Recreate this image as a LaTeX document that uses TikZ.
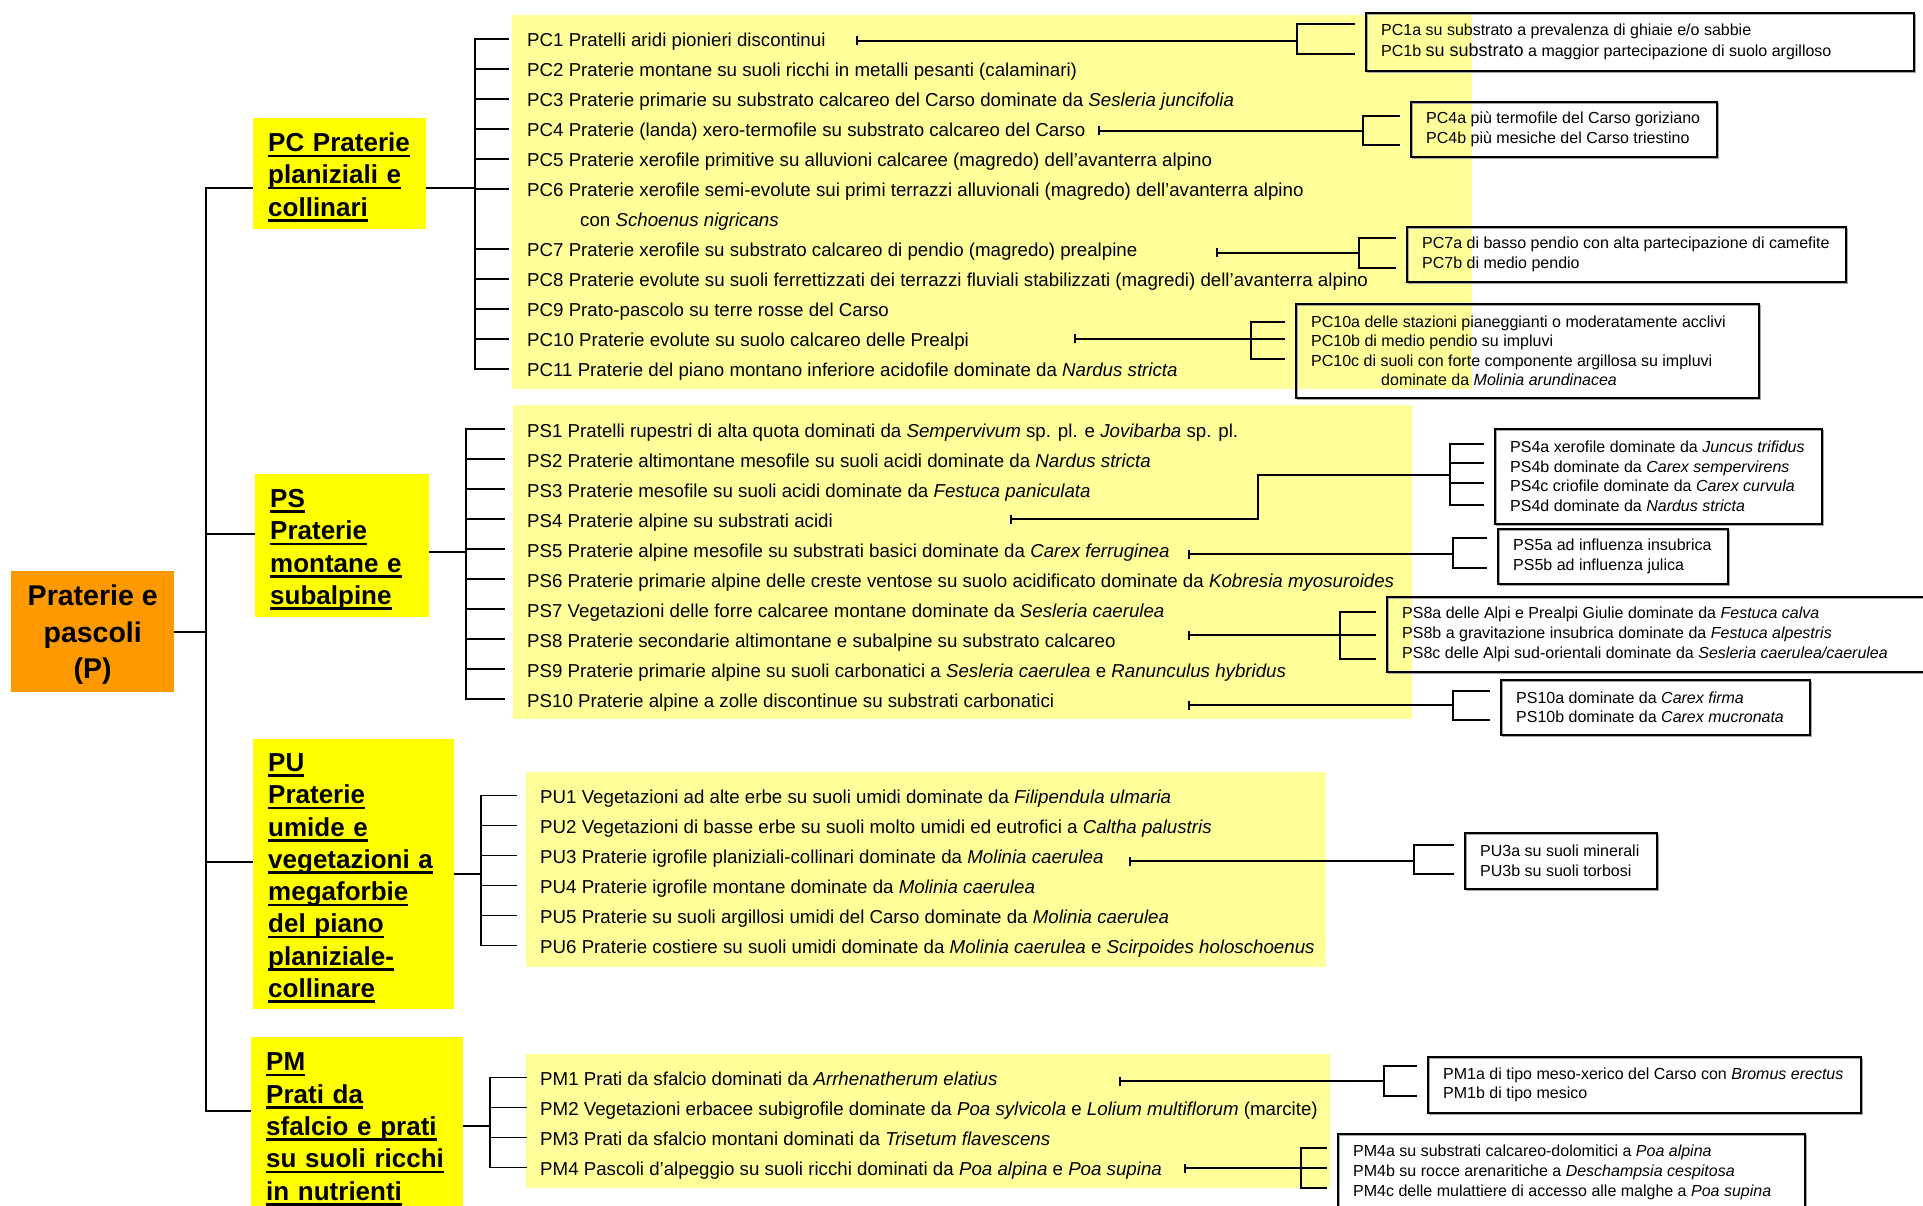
\documentclass[tikz,border=0pt]{standalone}
\usepackage{fontspec}
\setmainfont{Liberation Sans}
\usetikzlibrary{arrows.meta}
\definecolor{paleyellow}{HTML}{FFFF99}
\definecolor{headyellow}{HTML}{FFFF00}
\definecolor{rootorange}{HTML}{FF9900}
\newcommand\hdul[1]{\leavevmode\setbox0\hbox{#1}\rlap{\rule[-5.5pt]{\wd0}{2.6pt}}\box0}

\begin{document}
\begin{tikzpicture}[x=1pt,y=-1pt,
	row/.style={anchor=west, inner sep=0pt, text height=17pt, text depth=1pt, font=\fontsize{18.7}{22}\selectfont},
	head/.style={anchor=north west, fill=headyellow, inner xsep=15pt, inner ysep=0pt, align=left, font=\bfseries\fontsize{26}{32.3}\selectfont},
	subbox/.style={anchor=north west, draw, line width=1.6pt, inner sep=0pt, preaction={draw=gray!70, line width=1.6pt, transform canvas={xshift=1.6pt, yshift=-1.6pt}}},
	subtext/.style={anchor=west, inner sep=0pt, align=left, font=\fontsize{16}{19.6}\selectfont},
	link/.style={line width=1.8pt},
	lead/.style={link, {Bar[width=9pt]}-}]
	\useasboundingbox (0,0) rectangle (1923,1206);

	% pale bands behind the rows
	\fill[paleyellow] (512,15) rectangle (1472,389);
	\fill[paleyellow] (513,405) rectangle (1412,719);
	\fill[paleyellow] (526,772) rectangle (1326,967);
	\fill[paleyellow] (526,1054) rectangle (1330,1188);

	% root and the four groups
	\node[anchor=north west, fill=rootorange, minimum width=163pt, minimum height=121pt, inner sep=0pt, align=center, font=\bfseries\fontsize{28.5}{36.5}\selectfont] (root) at (11,571) {\rule{0pt}{27pt}Praterie e\\pascoli\\(P)};
	\node[head, text width=143pt, minimum height=111pt] (pchead) at (253,118) {\rule{0pt}{26pt}\hdul{PC Praterie}\\\hdul{planiziali e}\\\hdul{collinari}};
	\node[head, text width=144pt, minimum height=143pt] (pshead) at (255,474) {\rule{0pt}{26pt}\hdul{PS}\\\hdul{Praterie}\\\hdul{montane e}\\\hdul{subalpine}};
	\node[head, text width=171pt, minimum height=270pt] (puhead) at (253,739) {\rule{0pt}{26pt}\hdul{PU}\\\hdul{Praterie}\\\hdul{umide e}\\\hdul{vegetazioni a}\\\hdul{megaforbie}\\\hdul{del piano}\\\hdul{planiziale-}\\\hdul{collinare}};
	\node[head, text width=182pt, minimum height=176pt] (pmhead) at (251,1037) {\rule{0pt}{26pt}\hdul{PM}\\\hdul{Prati da}\\\hdul{sfalcio e prati}\\\hdul{su suoli ricchi}\\\hdul{in nutrienti}};

	% PC rows
	\node[row] (pc1) at (527,39) {PC1 Pratelli aridi pionieri discontinui};
	\node[row] (pc2) at (527,69) {PC2 Praterie montane su suoli ricchi in metalli pesanti (calaminari)};
	\node[row] (pc3) at (527,99) {PC3 Praterie primarie su substrato calcareo del Carso dominate da \textit{Sesleria juncifolia}};
	\node[row] (pc4) at (527,129) {PC4 Praterie (landa) xero-termofile su substrato calcareo del Carso};
	\node[row] (pc5) at (527,159) {PC5 Praterie xerofile primitive su alluvioni calcaree (magredo) dell’avanterra alpino};
	\node[row] (pc6) at (527,189) {PC6 Praterie xerofile semi-evolute sui primi terrazzi alluvionali (magredo) dell’avanterra alpino};
	\node[row] (pc6b) at (580,219) {con \textit{Schoenus nigricans}};
	\node[row] (pc7) at (527,249) {PC7 Praterie xerofile su substrato calcareo di pendio (magredo) prealpine};
	\node[row] (pc8) at (527,279) {PC8 Praterie evolute su suoli ferrettizzati dei terrazzi fluviali stabilizzati (magredi) dell’avanterra alpino};
	\node[row] (pc9) at (527,309) {PC9 Prato-pascolo su terre rosse del Carso};
	\node[row] (pc10) at (527,339) {PC10 Praterie evolute su suolo calcareo delle Prealpi};
	\node[row] (pc11) at (527,369) {PC11 Praterie del piano montano inferiore acidofile dominate da \textit{Nardus stricta}};

	% PS rows
	\node[row] (ps1) at (527,429) {PS1 Pratelli rupestri di alta quota dominati da \textit{Sempervivum} sp. pl. e \textit{Jovibarba} sp. pl.};
	\node[row] (ps2) at (527,459) {PS2 Praterie altimontane mesofile su suoli acidi dominate da \textit{Nardus stricta}};
	\node[row] (ps3) at (527,489) {PS3 Praterie mesofile su suoli acidi dominate da \textit{Festuca paniculata}};
	\node[row] (ps4) at (527,519) {PS4 Praterie alpine su substrati acidi};
	\node[row] (ps5) at (527,549) {PS5 Praterie alpine mesofile su substrati basici dominate da \textit{Carex ferruginea}};
	\node[row] (ps6) at (527,579) {PS6 Praterie primarie alpine delle creste ventose su suolo acidificato dominate da \textit{Kobresia myosuroides}};
	\node[row] (ps7) at (527,609) {PS7 Vegetazioni delle forre calcaree montane dominate da \textit{Sesleria caerulea}};
	\node[row] (ps8) at (527,639) {PS8 Praterie secondarie altimontane e subalpine su substrato calcareo};
	\node[row] (ps9) at (527,669) {PS9 Praterie primarie alpine su suoli carbonatici a \textit{Sesleria caerulea} e \textit{Ranunculus hybridus}};
	\node[row] (ps10) at (527,699) {PS10 Praterie alpine a zolle discontinue su substrati carbonatici};

	% PU rows
	\node[row] (pu1) at (540,795.5) {PU1 Vegetazioni ad alte erbe su suoli umidi dominate da \textit{Filipendula ulmaria}};
	\node[row] (pu2) at (540,825.5) {PU2 Vegetazioni di basse erbe su suoli molto umidi ed eutrofici a \textit{Caltha palustris}};
	\node[row] (pu3) at (540,855.5) {PU3 Praterie igrofile planiziali-collinari dominate da \textit{Molinia caerulea}};
	\node[row] (pu4) at (540,885.5) {PU4 Praterie igrofile montane dominate da \textit{Molinia caerulea}};
	\node[row] (pu5) at (540,915.5) {PU5 Praterie su suoli argillosi umidi del Carso dominate da \textit{Molinia caerulea}};
	\node[row] (pu6) at (540,945.5) {PU6 Praterie costiere su suoli umidi dominate da \textit{Molinia caerulea} e \textit{Scirpoides holoschoenus}};

	% PM rows
	\node[row] (pm1) at (540,1077.5) {PM1 Prati da sfalcio dominati da \textit{Arrhenatherum elatius}};
	\node[row] (pm2) at (540,1107.5) {PM2 Vegetazioni erbacee subigrofile dominate da \textit{Poa sylvicola} e \textit{Lolium multiflorum} (marcite)};
	\node[row] (pm3) at (540,1137.5) {PM3 Prati da sfalcio montani dominati da \textit{Trisetum flavescens}};
	\node[row] (pm4) at (540,1167.5) {PM4 Pascoli d'alpeggio su suoli ricchi dominati da \textit{Poa alpina} e \textit{Poa supina}};

	% subtype boxes
	\node[subbox, minimum width=548pt, minimum height=58pt] (pc1x) at (1365,12) {};
	\node[subtext, font=\fontsize{16}{21}\selectfont] (pc1xt) at ([xshift=16pt]pc1x.west) {PC1a su substrato a prevalenza di ghiaie e/o sabbie\\PC1b {\fontsize{18}{21}\selectfont su substrato} a maggior partecipazione di suolo argilloso};
	\node[subbox, minimum width=306pt, minimum height=55pt] (pc4x) at (1410,101) {};
	\node[subtext] (pc4xt) at ([xshift=16pt]pc4x.west) {PC4a più termofile del Carso goriziano\\PC4b più mesiche del Carso triestino};
	\node[subbox, minimum width=439pt, minimum height=55pt] (pc7x) at (1406,226) {};
	\node[subtext] (pc7xt) at ([xshift=16pt]pc7x.west) {PC7a di basso pendio con alta partecipazione di camefite\\PC7b di medio pendio};
	\node[subbox, minimum width=463pt, minimum height=94pt] (pc10x) at (1295,303) {};
	\node[subtext] (pc10xt) at ([xshift=16pt]pc10x.west) {PC10a delle stazioni pianeggianti o moderatamente acclivi\\PC10b di medio pendio su impluvi\\PC10c di suoli con forte componente argillosa su impluvi\\\hspace*{70pt}dominate da \textit{Molinia arundinacea}};
	\node[subbox, minimum width=327pt, minimum height=95pt] (ps4x) at (1494,428) {};
	\node[subtext] (ps4xt) at ([xshift=16pt]ps4x.west) {PS4a xerofile dominate da \textit{Juncus trifidus}\\PS4b dominate da \textit{Carex sempervirens}\\PS4c criofile dominate da \textit{Carex curvula}\\PS4d dominate da \textit{Nardus stricta}};
	\node[subbox, minimum width=230pt, minimum height=55pt] (ps5x) at (1497,528) {};
	\node[subtext] (ps5xt) at ([xshift=16pt]ps5x.west) {PS5a ad influenza insubrica\\PS5b ad influenza julica};
	\node[subbox, minimum width=560pt, minimum height=75pt] (ps8x) at (1386,596) {};
	\node[subtext] (ps8xt) at ([xshift=16pt]ps8x.west) {PS8a delle Alpi e Prealpi Giulie dominate da \textit{Festuca calva}\\PS8b a gravitazione insubrica dominate da \textit{Festuca alpestris}\\PS8c delle Alpi sud-orientali dominate da \textit{Sesleria caerulea/caerulea}};
	\node[subbox, minimum width=309pt, minimum height=55pt] (ps10x) at (1500,679) {};
	\node[subtext] (ps10xt) at ([xshift=16pt]ps10x.west) {PS10a dominate da \textit{Carex firma}\\PS10b dominate da \textit{Carex mucronata}};
	\node[subbox, minimum width=192pt, minimum height=56pt] (pu3x) at (1464,832) {};
	\node[subtext] (pu3xt) at ([xshift=16pt]pu3x.west) {PU3a su suoli minerali\\PU3b su suoli torbosi};
	\node[subbox, minimum width=433pt, minimum height=56pt] (pm1x) at (1427,1056) {};
	\node[subtext] (pm1xt) at ([xshift=16pt]pm1x.west) {PM1a di tipo meso-xerico del Carso con \textit{Bromus erectus}\\PM1b di tipo mesico};
	\node[subbox, minimum width=467pt, minimum height=77pt] (pm4x) at (1337,1133) {};
	\node[subtext] (pm4xt) at ([xshift=16pt]pm4x.west) {PM4a su substrati calcareo-dolomitici a \textit{Poa alpina}\\PM4b su rocce arenaritiche a \textit{Deschampsia cespitosa}\\PM4c delle mulattiere di accesso alle malghe a \textit{Poa supina}};

	% trunk from the root to the groups
	\coordinate (trunk) at (206,188);
	\coordinate (trunkend) at (206,1111);
	\draw[link] (pchead.west |- trunk) -- (trunk) -- (trunkend) -- (pmhead.west |- trunkend);
	\draw[link] (root.east) -- (root.east -| trunk);
	\draw[link] (trunk |- 0,534) -- (pshead.west |- 0,534);
	\draw[link] (trunk |- 0,862) -- (puhead.west |- 0,862);

	% group brackets
	\coordinate (pcfork) at (475,188);
	\draw[link] (pchead.east |- pcfork) -- (pcfork);
	\draw[link] ([xshift=-18pt]pc1.west) -- (pcfork |- pc1) -- (pcfork |- pc11) -- ([xshift=-18pt]pc11.west);
	\foreach \r in {pc2,pc3,pc4,pc5,pc6,pc7,pc8,pc9,pc10}
		\draw[link] (pcfork |- \r) -- ([xshift=-18pt]\r.west);
	\coordinate (psfork) at (466,552);
	\draw[link] (pshead.east |- psfork) -- (psfork);
	\draw[link] ([xshift=-22pt]ps1.west) -- (psfork |- ps1) -- (psfork |- ps10) -- ([xshift=-22pt]ps10.west);
	\foreach \r in {ps2,ps3,ps4,ps5,ps6,ps7,ps8,ps9}
		\draw[link] (psfork |- \r) -- ([xshift=-22pt]\r.west);
	\coordinate (pufork) at (481,874);
	\draw[link] (puhead.east |- pufork) -- (pufork);
	\draw[link] ([xshift=-23pt]pu1.west) -- (pufork |- pu1) -- (pufork |- pu6) -- ([xshift=-23pt]pu6.west);
	\foreach \r in {pu2,pu3,pu4,pu5}
		\draw[link] (pufork |- \r) -- ([xshift=-23pt]\r.west);
	\coordinate (pmfork) at (490,1126);
	\draw[link] (pmhead.east |- pmfork) -- (pmfork);
	\draw[link] ([xshift=-13pt]pm1.west) -- (pmfork |- pm1) -- (pmfork |- pm4) -- ([xshift=-13pt]pm4.west);
	\foreach \r in {pm2,pm3}
		\draw[link] (pmfork |- \r) -- ([xshift=-13pt]\r.west);

	% leads to the subtype boxes
	\coordinate (pc1f) at (1297,41);
	\draw[lead] (856,0 |- pc1f) -- (pc1f);
	\draw[link, shorten <=10pt, shorten >=10pt] (pc1x.west |- 0,24) -- (pc1f |- 0,24) -- (pc1f |- 0,54) -- (pc1x.west |- 0,54);
	\coordinate (pc4f) at (1363,131);
	\draw[lead] (1098,0 |- pc4f) -- (pc4f);
	\draw[link, shorten <=10pt, shorten >=10pt] (pc4x.west |- 0,116) -- (pc4f |- 0,116) -- (pc4f |- 0,145) -- (pc4x.west |- 0,145);
	\coordinate (pc7f) at (1359,253);
	\draw[lead] (1216,0 |- pc7f) -- (pc7f);
	\draw[link, shorten <=10pt, shorten >=10pt] (pc7x.west |- 0,238) -- (pc7f |- 0,238) -- (pc7f |- 0,268) -- (pc7x.west |- 0,268);
	\coordinate (pc10f) at (1251,339);
	\draw[lead] (1074,0 |- pc10f) -- (pc10f);
	\draw[link, shorten <=10pt, shorten >=10pt] (pc10x.west |- 0,322) -- (pc10f |- 0,322) -- (pc10f |- 0,359) -- (pc10x.west |- 0,359);
	\draw[link, shorten >=10pt] (pc10f) -- (pc10x.west |- pc10f);
	\coordinate (ps4f) at (1450,475);
	\draw[lead] (1010,0 |- ps4) -- (1258,0 |- ps4) |- (ps4f);
	\draw[link, shorten <=10pt, shorten >=10pt] (ps4x.west |- 0,444) -- (ps4f |- 0,444) -- (ps4f |- 0,505) -- (ps4x.west |- 0,505);
	\foreach \t in {463,483}
		\draw[link, shorten >=10pt] (ps4f |- 0,\t) -- (ps4x.west |- 0,\t);
	\coordinate (ps5f) at (1453,554);
	\draw[lead] (1188,0 |- ps5f) -- (ps5f);
	\draw[link, shorten <=10pt, shorten >=10pt] (ps5x.west |- 0,538) -- (ps5f |- 0,538) -- (ps5f |- 0,568) -- (ps5x.west |- 0,568);
	\coordinate (ps8f) at (1340,635);
	\draw[lead] (1188,0 |- ps8f) -- (ps8f);
	\draw[link, shorten <=10pt, shorten >=10pt] (ps8x.west |- 0,612) -- (ps8f |- 0,612) -- (ps8f |- 0,659) -- (ps8x.west |- 0,659);
	\draw[link, shorten >=10pt] (ps8f) -- (ps8x.west |- ps8f);
	\coordinate (ps10f) at (1453,705);
	\draw[lead] (1188,0 |- ps10f) -- (ps10f);
	\draw[link, shorten <=10pt, shorten >=10pt] (ps10x.west |- 0,691) -- (ps10f |- 0,691) -- (ps10f |- 0,720) -- (ps10x.west |- 0,720);
	\coordinate (pu3f) at (1414,861);
	\draw[lead] (1129,0 |- pu3f) -- (pu3f);
	\draw[link, shorten <=10pt, shorten >=10pt] (pu3x.west |- 0,845) -- (pu3f |- 0,845) -- (pu3f |- 0,874) -- (pu3x.west |- 0,874);
	\coordinate (pm1f) at (1384,1081);
	\draw[lead] (1119,0 |- pm1f) -- (pm1f);
	\draw[link, shorten <=10pt, shorten >=10pt] (pm1x.west |- 0,1066) -- (pm1f |- 0,1066) -- (pm1f |- 0,1096) -- (pm1x.west |- 0,1096);
	\coordinate (pm4f) at (1301,1168);
	\draw[lead] (1184,0 |- pm4f) -- (pm4f);
	\draw[link, shorten <=10pt, shorten >=10pt] (pm4x.west |- 0,1148) -- (pm4f |- 0,1148) -- (pm4f |- 0,1188) -- (pm4x.west |- 0,1188);
	\draw[link, shorten >=10pt] (pm4f) -- (pm4x.west |- pm4f);
\end{tikzpicture}
\end{document}
